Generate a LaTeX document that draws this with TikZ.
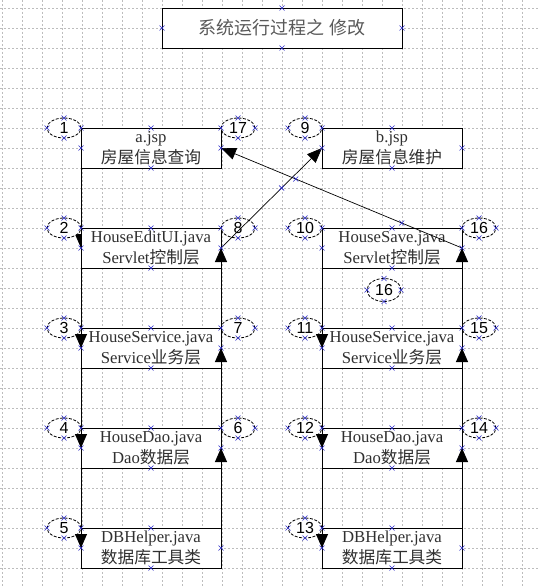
\documentclass[tikz,border=0pt]{standalone}
\usepackage{fontspec}
\setmainfont{Liberation Serif}
\newfontfamily\cjk{Noto Sans CJK SC}
\newfontfamily\numfont{Liberation Sans}
\usetikzlibrary{shapes.geometric,arrows.meta,positioning,backgrounds}
\definecolor{cGrid}{HTML}{BDBDBD}
\definecolor{cMark}{HTML}{2B2BC8}
\definecolor{cText}{HTML}{303030}

\begin{document}
\begin{tikzpicture}[
    x=1pt, y=-1pt,
    node distance=60pt and 101pt,
    layer/.style={rectangle, draw, fill=white, line width=0.9pt, minimum width=140pt, minimum height=40pt, inner sep=0pt, outer sep=0pt, font=\fontsize{16.7}{21}\selectfont, text=cText, align=center},
    head/.style={layer, minimum width=240pt, font=\fontsize{18}{22}\selectfont\cjk, text=black!65},
    num/.style={ellipse, draw, line width=0.8pt, dash pattern=on 3pt off 1.5pt, fill=white, minimum width=34pt, minimum height=20pt, inner sep=0pt, outer sep=0pt, font=\fontsize{16}{16}\selectfont\numfont},
    arr/.style={-{Triangle[length=14pt,width=12pt]}, line width=0.9pt},
    diag/.style={-{Triangle[length=15pt,width=12pt]}, line width=0.7pt},
    gridline/.style={cGrid, line width=0.6pt, dash pattern=on 2pt off 2pt},
    mk/.style={draw=cMark, line width=0.6pt}
]
\useasboundingbox (0,0) rectangle (540,586);
\begin{pgfonlayer}{background}
\fill[white] (0,0) rectangle (540,586);
\foreach \gx in {2.5,22.5,...,530} \draw[gridline] (\gx,0) -- (\gx,586);
\foreach \gy in {8,28,...,590} \draw[gridline] (0,\gy) -- (540,\gy);
\end{pgfonlayer}

\node[head] (title) at (282,28) {系统运行过程之 修改};

% left column
\node[layer] (jspA) at (151,148) {a.jsp\\{\cjk 房屋信息查询}};
\node[layer, below=of jspA] (uiL)  {HouseEditUI.java\\Servlet{\cjk 控制层}};
\node[layer, below=of uiL]  (svcL) {HouseService.java\\Service{\cjk 业务层}};
\node[layer, below=of svcL] (daoL) {HouseDao.java\\Dao{\cjk 数据层}};
\node[layer, below=of daoL] (dbL)  {DBHelper.java\\{\cjk 数据库工具类}};

% right column
\node[layer, right=of jspA] (jspB)  {b.jsp\\{\cjk 房屋信息维护}};
\node[layer, below=of jspB]  (saveR) {HouseSave.java\\Servlet{\cjk 控制层}};
\node[layer, below=of saveR] (svcR)  {HouseService.java\\Service{\cjk 业务层}};
\node[layer, below=of svcR]  (daoR)  {HouseDao.java\\Dao{\cjk 数据层}};
\node[layer, below=of daoR]  (dbR)   {DBHelper.java\\{\cjk 数据库工具类}};

% step numbers
\foreach \b/\n in {jspA/1, uiL/2, svcL/3, daoL/4, dbL/5, jspB/9, saveR/10, svcR/11, daoR/12, dbR/13}
  \node[num, left=0pt of \b.north west] (n\n) {\n};
\foreach \b/\n in {jspA/17, uiL/8, svcL/7, daoL/6, saveR/16, svcR/15, daoR/14}
  \node[num, right=0pt of \b.north east] (n\n) {\n};
\node[num, minimum height=23pt] (n16b) at (384,290) {16};

% calls down, returns up
\begin{pgfonlayer}{background}
\draw[arr] (jspA.west) -- (uiL.west);
\end{pgfonlayer}
\foreach \u/\v in {uiL/svcL, svcL/daoL, daoL/dbL, saveR/svcR, svcR/daoR, daoR/dbR}
  \draw[arr] (\u.west) -- (\v.west);
\foreach \u/\v in {dbL/daoL, daoL/svcL, svcL/uiL, dbR/daoR, daoR/svcR, svcR/saveR}
  \draw[arr] (\u.east) -- (\v.east);
\draw[diag] (uiL.east) -- coordinate[pos=0.6] (mA) (jspB.west);
\draw[diag] (saveR.east) -- coordinate[pos=0.25] (mB) coordinate[pos=0.69] (mC) (jspA.east);

% handles
\foreach \p in {title.north, title.south, title.west, title.east, mA, mB, mC}
  \draw[mk] (\p) +(-2.5,-2.5) -- +(2.5,2.5) +(-2.5,2.5) -- +(2.5,-2.5);
\foreach \b in {jspA, uiL, svcL, daoL, dbL, jspB, saveR, svcR, daoR, dbR,
                n1, n2, n3, n4, n5, n6, n7, n8, n9, n10, n11, n12, n13, n14, n15, n16, n17, n16b}
  \foreach \a in {north, south, west, east}
    \draw[mk] (\b.\a) +(-2.5,-2.5) -- +(2.5,2.5) +(-2.5,2.5) -- +(2.5,-2.5);
\end{tikzpicture}
\end{document}
